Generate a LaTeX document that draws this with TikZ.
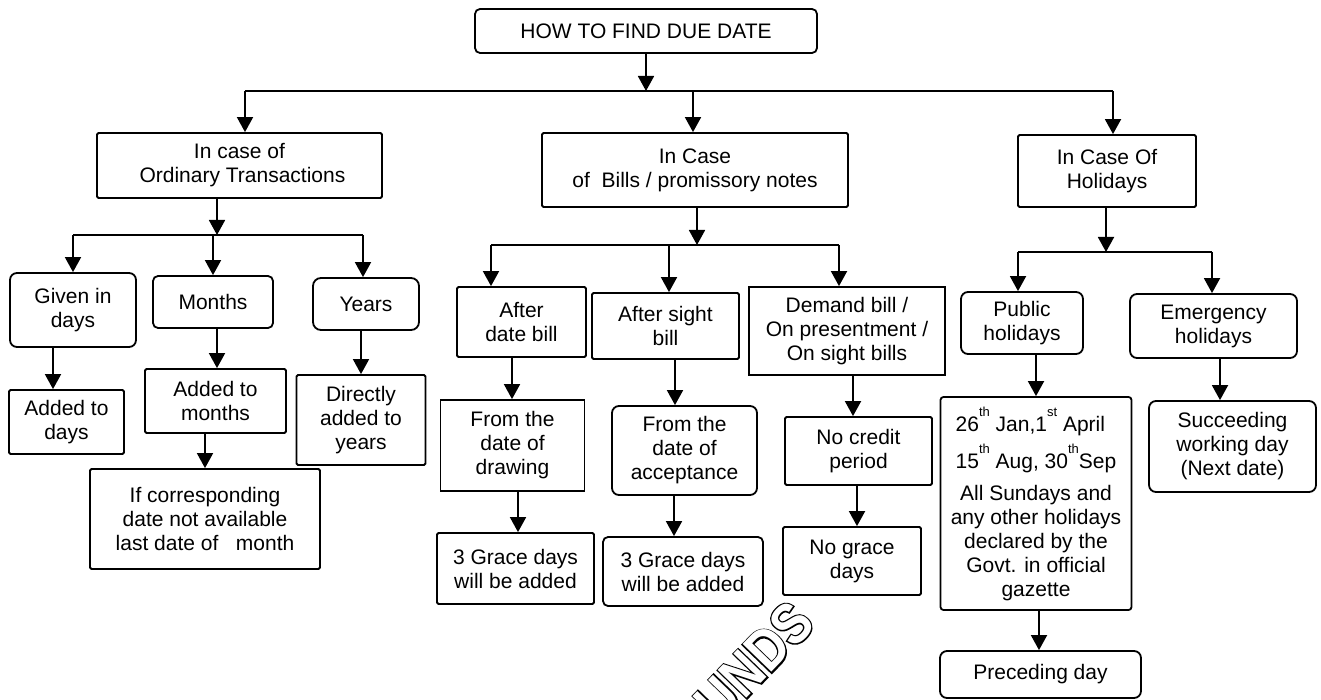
\documentclass[tikz,border=0pt]{standalone}
\usepackage{fontspec}
\setmainfont{Liberation Sans}
\newfontfamily\markfat[FakeBold=5]{Liberation Sans Bold}
\newfontfamily\markthin{Liberation Sans Bold}
\usetikzlibrary{arrows.meta}
\newcommand\supx[1]{\raisebox{15pt}{\fontsize{13}{13}\selectfont #1}}
\tikzset{
  box/.style={draw, line width=1.8pt, align=center, inner sep=0pt,
    font=\fontsize{21}{24}\selectfont},
  rbox/.style={box, rounded corners=5pt},
  sbox/.style={box, rounded corners=1.5pt},
  arr/.style={line width=1.8pt, -{Triangle[width=16pt,length=15pt]}},
  bus/.style={line width=1.8pt},
  wmark/.style={rotate=46, inner sep=0pt, xscale=0.85},
}
\begin{document}
\begin{tikzpicture}[x=1pt,y=-1pt]
\useasboundingbox (0,0) rectangle (1321,700);
\fill[white] (0,0) rectangle (1321,700);

% watermark in outlined letters
\begin{scope}
\clip (0,0) rectangle (1321,700);
\node[wmark, font=\markfat\fontsize{58}{58}\selectfont] (wmback) at (754,662) {UNDS};
\node[wmark, text=white, font=\markthin\fontsize{58}{58}\selectfont] (wmfront) at (wmback.center) {UNDS};
\end{scope}

% top level
\node[rbox, minimum width=342pt, minimum height=44pt] (top) at (646,31) {HOW TO FIND DUE DATE};
\node[sbox, minimum width=285pt, minimum height=65pt] (ord) at (239.5,165.5) {In case of\\ \ Ordinary Transactions};
\node[sbox, minimum width=306pt, minimum height=74pt] (bills) at (695,170) {In Case\\of\ \ Bills / promissory notes};
\node[sbox, minimum width=178pt, minimum height=72pt] (hol) at (1107,171) {In Case Of\\Holidays};

% ordinary transactions
\node[rbox, rounded corners=7pt, minimum width=126pt, minimum height=74pt] (gid) at (73,310) {Given in\\days};
\node[rbox, minimum width=120pt, minimum height=52pt] (mon) at (213,302) {Months};
\node[rbox, rounded corners=8pt, minimum width=106pt, minimum height=52pt] (yrs) at (366,304) {Years};
\node[sbox, minimum width=115pt, minimum height=64pt] (atd) at (66.5,422) {Added to\\days};
\node[sbox, minimum width=141pt, minimum height=64pt] (atm) at (215.5,401) {Added to\\months};
\node[sbox, minimum width=230pt, minimum height=100pt] (ifc) at (205,519) {If corresponding\\date not available\\last date of\ \ \ month};
\node[sbox, minimum width=129pt, minimum height=90pt] (day) at (361,420) {Directly\\added to\\years};

% bills / promissory notes
\node[sbox, minimum width=129pt, minimum height=70pt] (adb) at (521.5,322) {After\\date bill};
\node[sbox, minimum width=147pt, minimum height=66pt] (asb) at (665.5,326) {After sight\\bill};
\node[box, minimum width=196pt, minimum height=88pt] (dem) at (847,331) {Demand bill /\\On presentment /\\On sight bills};
\node[box, minimum width=144pt, minimum height=91pt] (fdd) at (512.5,445.5) {From the\\date of\\drawing};
\node[rbox, rounded corners=7pt, minimum width=145pt, minimum height=89pt] (fda) at (684.5,450.5) {From the\\date of\\acceptance};
\node[sbox, minimum width=147pt, minimum height=68pt] (ncp) at (858.5,451) {No credit\\period};
\node[sbox, minimum width=157pt, minimum height=71pt] (g1) at (515.5,568.5) {3 Grace days\\will be added};
\node[rbox, minimum width=160pt, minimum height=69pt] (g2) at (683,571.5) {3 Grace days\\will be added};
\node[sbox, minimum width=138pt, minimum height=68pt] (ngd) at (852,561) {No grace\\days};

% holidays
\node[rbox, rounded corners=7pt, minimum width=122pt, minimum height=62pt] (pub) at (1022,323) {Public\\holidays};
\node[rbox, rounded corners=7pt, minimum width=167pt, minimum height=64pt] (emg) at (1213.5,326) {Emergency\\holidays};
\node[sbox, rounded corners=3pt, minimum width=191pt, minimum height=213pt] (big) at (1036,503.5)
  {\begin{tabular}{@{}l@{}}26\supx{th} Jan,1\supx{st} April\\[6pt]15\supx{th} Aug, 30\supx{th}Sep\end{tabular}\\[8pt]
   All Sundays and\\any other holidays\\declared by the\\Govt. in official\\gazette};
\node[rbox, rounded corners=7pt, minimum width=201pt, minimum height=47pt] (pre) at (1040.5,674.5) {Preceding day};
\node[rbox, rounded corners=7pt, minimum width=167pt, minimum height=91pt] (suc) at (1232.5,446.5) {Succeeding\\working day\\(Next date)};

% first branching
\coordinate (busA) at (0,91);
\draw[arr] (top.south) -- (top.south |- busA);
\draw[bus] ([xshift=5.5pt]ord.north |- busA) -- ([xshift=6pt]hol.north |- busA);
\draw[arr] ([xshift=5.5pt]ord.north |- busA) -- ([xshift=5.5pt]ord.north);
\draw[arr] ([xshift=-2pt]bills.north |- busA) -- ([xshift=-2pt]bills.north);
\draw[arr] ([xshift=6pt]hol.north |- busA) -- ([xshift=6pt]hol.north);

% ordinary transactions branching
\coordinate (busB) at (0,235);
\draw[arr] ([xshift=-22.5pt]ord.south) -- ([xshift=-22.5pt]ord.south |- busB);
\draw[bus] (gid.north |- busB) -- ([xshift=-3pt]yrs.north |- busB);
\draw[arr] (gid.north |- busB) -- (gid.north);
\draw[arr] (mon.north |- busB) -- (mon.north);
\draw[arr] ([xshift=-3pt]yrs.north |- busB) -- ([xshift=-3pt]yrs.north);
\draw[arr] ([xshift=-20pt]gid.south) -- ([xshift=-20pt]gid.south |- atd.north);
\draw[arr] ([xshift=4pt]mon.south) -- ([xshift=4pt]mon.south |- atm.north);
\draw[arr] (ifc.north |- atm.south) -- (ifc.north);
\draw[arr] (day.north |- yrs.south) -- (day.north);

% bills branching
\coordinate (busC) at (0,245);
\draw[arr] ([xshift=2pt]bills.south) -- ([xshift=2pt]bills.south |- busC);
\draw[bus] ([xshift=-30.5pt]adb.north |- busC) -- ([xshift=-8pt]dem.north |- busC);
\draw[arr] ([xshift=-30.5pt]adb.north |- busC) -- ([xshift=-30.5pt]adb.north);
\draw[arr] ([xshift=3.5pt]asb.north |- busC) -- ([xshift=3.5pt]asb.north);
\draw[arr] ([xshift=-8pt]dem.north |- busC) -- ([xshift=-8pt]dem.north);
\draw[arr] ([xshift=-0.5pt]fdd.north |- adb.south) -- ([xshift=-0.5pt]fdd.north);
\draw[arr] ([xshift=9.5pt]asb.south) -- ([xshift=9.5pt]asb.south |- fda.north);
\draw[arr] ([xshift=-5.5pt]ncp.north |- dem.south) -- ([xshift=-5.5pt]ncp.north);
\draw[arr] ([xshift=5.5pt]fdd.south) -- ([xshift=5.5pt]fdd.south |- g1.north);
\draw[arr] ([xshift=-10.5pt]fda.south) -- ([xshift=-10.5pt]fda.south |- g2.north);
\draw[arr] ([xshift=-1.5pt]ncp.south) -- ([xshift=-1.5pt]ncp.south |- ngd.north);

% holidays branching
\coordinate (busD) at (0,252);
\draw[arr] ([xshift=-1pt]hol.south) -- ([xshift=-1pt]hol.south |- busD);
\draw[bus] ([xshift=-4pt]pub.north |- busD) -- ([xshift=-1.5pt]emg.north |- busD);
\draw[arr] ([xshift=-4pt]pub.north |- busD) -- ([xshift=-4pt]pub.north);
\draw[arr] ([xshift=-1.5pt]emg.north |- busD) -- ([xshift=-1.5pt]emg.north);
\draw[arr] (big.north |- pub.south) -- (big.north);
\draw[arr] ([xshift=3pt]big.south) -- ([xshift=3pt]big.south |- pre.north);
\draw[arr] ([xshift=6.5pt]emg.south) -- ([xshift=6.5pt]emg.south |- suc.north);
\end{tikzpicture}
\end{document}
